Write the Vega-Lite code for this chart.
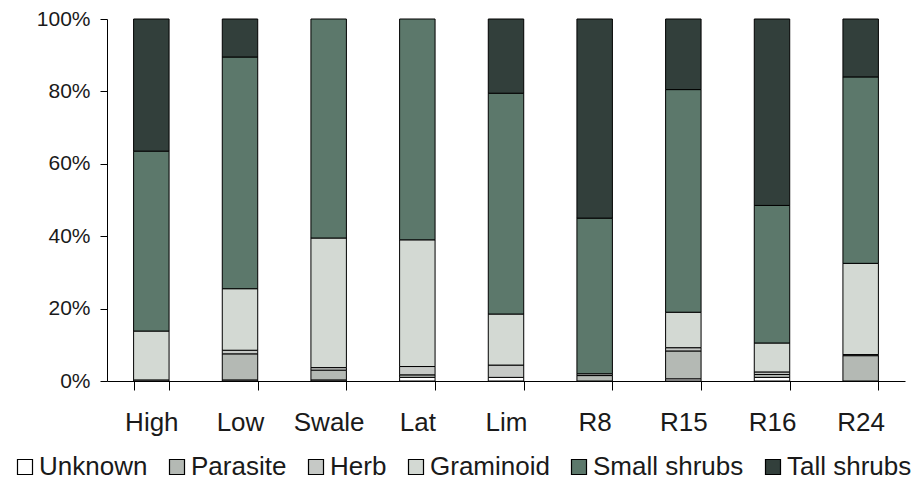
{
  "$schema": "https://vega.github.io/schema/vega-lite/v6.json",
  "width": 798,
  "height": 362,
  "autosize": {"type": "none"},
  "padding": {"left": 107, "top": 19, "right": 19, "bottom": 105},
  "background": "white",
  "config": {
    "view": {"stroke": null},
    "font": "Liberation Sans",
    "axis": {"labelFont": "Liberation Sans", "labelColor": "#1a1a1a", "domainColor": "#000", "tickColor": "#000", "grid": false},
    "legend": {"labelFont": "Liberation Sans"}
  },
  "data": {
    "values": [
      {"site": "High", "type": "Unknown", "pct": 0.3},
      {"site": "High", "type": "Graminoid", "pct": 13.5},
      {"site": "High", "type": "Small shrubs", "pct": 49.7},
      {"site": "High", "type": "Tall shrubs", "pct": 36.5},
      {"site": "Low", "type": "Unknown", "pct": 0.3},
      {"site": "Low", "type": "Parasite", "pct": 7.2},
      {"site": "Low", "type": "Herb", "pct": 1.0},
      {"site": "Low", "type": "Graminoid", "pct": 17.0},
      {"site": "Low", "type": "Small shrubs", "pct": 64.0},
      {"site": "Low", "type": "Tall shrubs", "pct": 10.5},
      {"site": "Swale", "type": "Unknown", "pct": 0.3},
      {"site": "Swale", "type": "Parasite", "pct": 2.7},
      {"site": "Swale", "type": "Herb", "pct": 0.7},
      {"site": "Swale", "type": "Graminoid", "pct": 35.8},
      {"site": "Swale", "type": "Small shrubs", "pct": 60.5},
      {"site": "Lat", "type": "Unknown", "pct": 1.0},
      {"site": "Lat", "type": "Parasite", "pct": 0.7},
      {"site": "Lat", "type": "Herb", "pct": 2.3},
      {"site": "Lat", "type": "Graminoid", "pct": 35.0},
      {"site": "Lat", "type": "Small shrubs", "pct": 61.0},
      {"site": "Lim", "type": "Unknown", "pct": 1.0},
      {"site": "Lim", "type": "Herb", "pct": 3.4},
      {"site": "Lim", "type": "Graminoid", "pct": 14.1},
      {"site": "Lim", "type": "Small shrubs", "pct": 61.0},
      {"site": "Lim", "type": "Tall shrubs", "pct": 20.5},
      {"site": "R8", "type": "Parasite", "pct": 1.5},
      {"site": "R8", "type": "Herb", "pct": 0.5},
      {"site": "R8", "type": "Small shrubs", "pct": 43.0},
      {"site": "R8", "type": "Tall shrubs", "pct": 55.0},
      {"site": "R15", "type": "Unknown", "pct": 0.6},
      {"site": "R15", "type": "Parasite", "pct": 7.7},
      {"site": "R15", "type": "Herb", "pct": 0.9},
      {"site": "R15", "type": "Graminoid", "pct": 9.8},
      {"site": "R15", "type": "Small shrubs", "pct": 61.5},
      {"site": "R15", "type": "Tall shrubs", "pct": 19.5},
      {"site": "R16", "type": "Unknown", "pct": 1.0},
      {"site": "R16", "type": "Parasite", "pct": 0.8},
      {"site": "R16", "type": "Herb", "pct": 0.7},
      {"site": "R16", "type": "Graminoid", "pct": 8.0},
      {"site": "R16", "type": "Small shrubs", "pct": 38.0},
      {"site": "R16", "type": "Tall shrubs", "pct": 51.5},
      {"site": "R24", "type": "Parasite", "pct": 7.0},
      {"site": "R24", "type": "Herb", "pct": 0.3},
      {"site": "R24", "type": "Graminoid", "pct": 25.2},
      {"site": "R24", "type": "Small shrubs", "pct": 51.5},
      {"site": "R24", "type": "Tall shrubs", "pct": 16.0}
    ]
  },
  "transform": [
    {"calculate": "indexof(['Unknown', 'Parasite', 'Herb', 'Graminoid', 'Small shrubs', 'Tall shrubs'], datum.type)", "as": "stackOrder"}
  ],
  "mark": {"type": "bar", "stroke": "#000", "strokeWidth": 1},
  "encoding": {
    "x": {
      "field": "site",
      "type": "nominal",
      "sort": ["High", "Low", "Swale", "Lat", "Lim", "R8", "R15", "R16", "R24"],
      "scale": {"paddingInner": 0.6, "paddingOuter": 0.3},
      "axis": {
        "title": null,
        "labelAngle": 0,
        "labelFontSize": 26,
        "labelPadding": 19,
        "tickBand": "extent",
        "tickSize": 9,
        "domainWidth": 1,
        "tickWidth": 1
      }
    },
    "y": {
      "field": "pct",
      "type": "quantitative",
      "stack": "normalize",
      "scale": {"domain": [0, 1], "nice": false},
      "axis": {
        "title": null,
        "values": [0, 0.2, 0.4, 0.6, 0.8, 1],
        "format": ".0%",
        "labelFontSize": 21,
        "labelPadding": 10,
        "tickSize": 7,
        "domainWidth": 1,
        "tickWidth": 1
      }
    },
    "order": {"field": "stackOrder", "type": "quantitative", "sort": "ascending"},
    "color": {
      "field": "type",
      "type": "nominal",
      "scale": {
        "domain": ["Unknown", "Parasite", "Herb", "Graminoid", "Small shrubs", "Tall shrubs"],
        "range": ["#ffffff", "#b4b9b4", "#c6c9c6", "#d3d9d3", "#5c786b", "#323f3b"]
      },
      "legend": {
        "title": null,
        "orient": "none",
        "direction": "horizontal",
        "columns": 6,
        "legendX": -95,
        "legendY": 435,
        "padding": 0,
        "symbolType": "square",
        "symbolSize": 225,
        "symbolStrokeColor": "#000",
        "symbolStrokeWidth": 1.2,
        "symbolOpacity": 1,
        "labelFontSize": 26,
        "labelColor": "#1a1a1a",
        "labelOffset": 1,
        "columnPadding": 16,
        "labelLimit": 300
      }
    }
  }
}
